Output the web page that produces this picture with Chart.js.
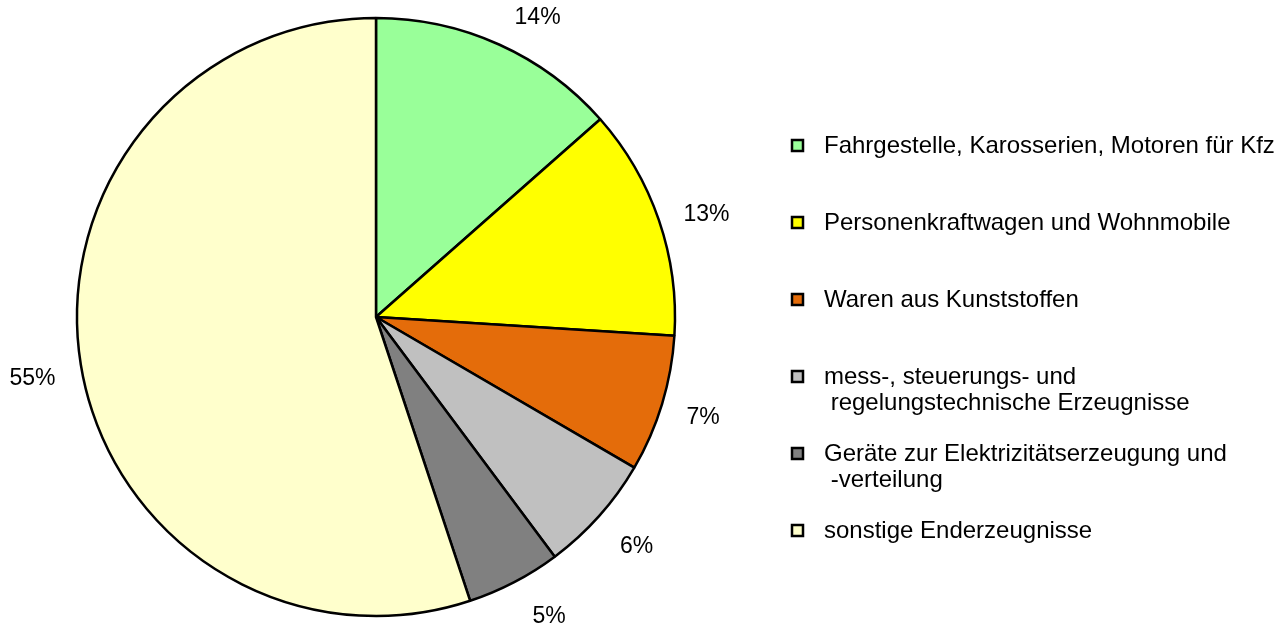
<!DOCTYPE html>
<html>
<head>
<meta charset="utf-8">
<script src="https://cdn.jsdelivr.net/npm/chart.js@4.4.0/dist/chart.umd.min.js"></script>
<style>
  html, body { margin: 0; padding: 0; background: #fff; }
  #wrap { position: relative; width: 1287px; height: 628px; }
</style>
</head>
<body>
<div id="wrap"><canvas id="chart" width="1287" height="628"></canvas></div>
<script>
// Categories (legend text, line breaks as in the original)
const categories = [
  ['Fahrgestelle, Karosserien, Motoren für Kfz'],
  ['Personenkraftwagen und Wohnmobile'],
  ['Waren aus Kunststoffen'],
  ['mess-, steuerungs- und', ' regelungstechnische Erzeugnisse'],
  ['Geräte zur Elektrizitätserzeugung und', ' -verteilung'],
  ['sonstige Enderzeugnisse'],
];

// Shares in percent, clockwise from 12 o'clock
const shares = [13.5, 12.5, 7.4, 6.4, 5.1, 55.1];

const sliceColors = ['#99FF99', '#FFFF00', '#E46C0A', '#C0C0C0', '#808080', '#FFFFCC'];

// Nudges for the outside labels (Excel places them a bit off the radial line)
const labelNudge = [[20, 14], [5, 9], [-2, 1], [4, 1], [14, -5], [-4, 7]];

const FONT = '"Liberation Sans", Arial, sans-serif';

// Percent labels outside the pie, on each slice's mid angle
const percentLabels = {
  id: 'percentLabels',
  afterDatasetsDraw(chart) {
    const { ctx } = chart;
    const meta = chart.getDatasetMeta(0);
    const total = shares.reduce((a, b) => a + b, 0);
    ctx.save();
    ctx.font = '23px ' + FONT;
    ctx.fillStyle = '#000';
    ctx.textAlign = 'center';
    ctx.textBaseline = 'middle';
    meta.data.forEach((arc, i) => {
      const mid = (arc.startAngle + arc.endAngle) / 2;
      const r = arc.outerRadius + 45;
      const x = arc.x + Math.cos(mid) * r + labelNudge[i][0];
      const y = arc.y + Math.sin(mid) * r + labelNudge[i][1];
      ctx.fillText(Math.round(shares[i] / total * 100) + '%', x, y);
    });
    ctx.restore();
  }
};

// Legend on the right with square markers and wrapped lines
const sideLegend = {
  id: 'sideLegend',
  afterDraw(chart) {
    const { ctx } = chart;
    ctx.save();
    ctx.font = '24px ' + FONT;
    ctx.textBaseline = 'middle';
    ctx.textAlign = 'left';
    categories.forEach((lines, i) => {
      const y = 146 + i * 77;
      ctx.fillStyle = sliceColors[i];
      ctx.fillRect(792, y - 6, 11, 11);
      ctx.strokeStyle = '#000';
      ctx.lineWidth = 2.5;
      ctx.strokeRect(792, y - 6, 11, 11);
      ctx.fillStyle = '#000';
      lines.forEach((line, j) => {
        ctx.fillText(line, 824, y + j * 26.5);
      });
    });
    ctx.restore();
  }
};

new Chart(document.getElementById('chart'), {
  type: 'pie',
  data: {
    labels: categories.map(c => c.join('')),
    datasets: [{
      data: shares,
      backgroundColor: sliceColors,
      borderColor: '#000',
      borderWidth: 2.5,
      hoverOffset: 0,
    }]
  },
  options: {
    responsive: false,
    animation: false,
    radius: 299,
    layout: { padding: { left: 0, right: 535, top: 6, bottom: 0 } },
    plugins: {
      legend: { display: false },
      tooltip: { enabled: false }
    }
  },
  plugins: [percentLabels, sideLegend]
});
</script>
</body>
</html>
